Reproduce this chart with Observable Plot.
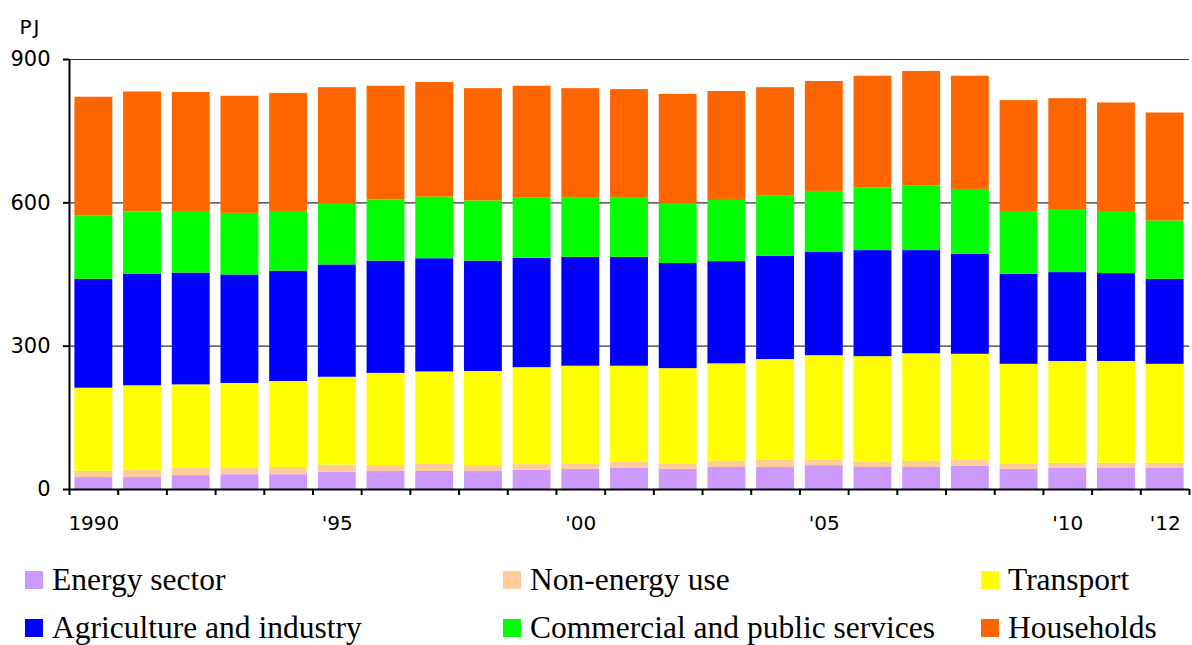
<!DOCTYPE html>
<html>
<head>
<meta charset="utf-8">
<script src="https://cdn.jsdelivr.net/npm/d3@7"></script>
<script src="https://cdn.jsdelivr.net/npm/@observablehq/plot@0.6"></script>
<style>
  html, body { margin: 0; padding: 0; background: #fff; }
  #chart { width: 1192px; }
  #legend {
    display: grid;
    grid-template-columns: 478px 478px 211px;
    grid-auto-rows: 48px;
    padding-left: 25px;
    margin-top: 11px;
    font-family: "Liberation Serif", "Times New Roman", serif;
    font-size: 31.5px;
    color: #000;
  }
  .item { display: flex; align-items: center; white-space: nowrap; }
  .sw { width: 18px; height: 18px; margin-right: 9px; flex: none; }
</style>
</head>
<body>
<div id="chart"></div>
<div id="legend"></div>
<script>
const years = [1990,1991,1992,1993,1994,1995,1996,1997,1998,1999,2000,2001,2002,2003,2004,2005,2006,2007,2008,2009,2010,2011,2012];
const sectors = ["Energy sector","Non-energy use","Transport","Agriculture and industry","Commercial and public services","Households"];
const colors = ["#CC99FF","#FFCC99","#FFFF00","#0000FF","#00FF00","#FF6600"];

const energySector = [25,25,29,31,31,36,38,38,38,40,42,44,42,46,46,50,46,46,49,42,44,44,44];
const nonEnergy    = [13,15,15,13,15,15,12,15,12,12,12,13,11,13,15,11,11,13,13,11,11,11,11];
const transport    = [174,177,175,178,180,184,193,193,197,203,204,201,200,204,211,219,221,225,221,209,213,213,207];
const agriIndustry = [228,234,234,227,231,235,235,237,231,229,228,228,220,214,216,216,222,216,209,188,186,184,178];
const commercial   = [133,130,129,129,125,128,128,129,126,126,125,125,126,128,126,128,131,135,136,132,132,128,122];
const households   = [248,251,249,245,247,243,238,240,235,234,228,226,228,228,227,230,234,240,237,232,232,229,226];

const yTicks = [0,300,600,900];
const labelYears = [1990,1995,2000,2005,2010,2012];
const labelTexts = ["1990","'95","'00","'05","'10","'12"];
const unit = "PJ";

const series = [energySector,nonEnergy,transport,agriIndustry,commercial,households];
const data = [];
series.forEach((vals, s) => vals.forEach((v, i) => data.push({year: years[i], sector: sectors[s], value: v})));

const boundaries = years.concat([years[years.length-1] + 1]);
const font = "DejaVu Sans, Verdana, sans-serif";

const chart = Plot.plot({
  width: 1192,
  height: 545,
  marginLeft: 69,
  marginRight: 3,
  marginTop: 59,
  marginBottom: 56,
  style: {fontFamily: font, background: "#fff", color: "#000"},
  x: {type: "linear", domain: [boundaries[0], boundaries[boundaries.length-1]], axis: null, label: null},
  y: {domain: [0, 900], axis: null, label: null},
  color: {domain: sectors, range: colors},
  marks: [
    Plot.gridY(yTicks.slice(1), {stroke: "#333", strokeOpacity: 1, strokeWidth: 1.2}),
    Plot.rectY(data, {x: "year", interval: 1, y: "value", fill: "sector", order: sectors, insetLeft: 5.4, insetRight: 5.4}),
    Plot.axisY({ticks: yTicks, tickSize: 6, tickPadding: 13, fontSize: 21, label: null, tickFormat: d => String(d), stroke: "#000", strokeWidth: 2}),
    Plot.axisX({ticks: boundaries, tickSize: 6, label: null, tickFormat: () => "", stroke: "#000", strokeWidth: 2}),
    Plot.ruleX([boundaries[0]], {y1: 0, y2: 900, stroke: "#000", strokeWidth: 2}),
    Plot.ruleY([0], {stroke: "#000", strokeWidth: 2}),
    Plot.text(labelYears, {x: d => d + 0.5, y: 0, dy: 34, text: (d, i) => labelTexts[i], fontSize: 20, fill: "#000"}),
    Plot.text([unit], {frameAnchor: "top-left", dx: -50, dy: -40, text: d => d, fontSize: 20, fill: "#000", textAnchor: "start", style: "letter-spacing: 2px"})
  ]
});
document.getElementById("chart").appendChild(chart);
chart.querySelectorAll("text").forEach(t => { if (t.textContent === unit) t.setAttribute("letter-spacing", "2"); });

const legend = document.getElementById("legend");
sectors.forEach((name, i) => {
  const item = document.createElement("div");
  item.className = "item";
  const sw = document.createElement("span");
  sw.className = "sw";
  sw.style.background = colors[i];
  const t = document.createElement("span");
  t.textContent = name;
  item.appendChild(sw);
  item.appendChild(t);
  legend.appendChild(item);
});
</script>
</body>
</html>
